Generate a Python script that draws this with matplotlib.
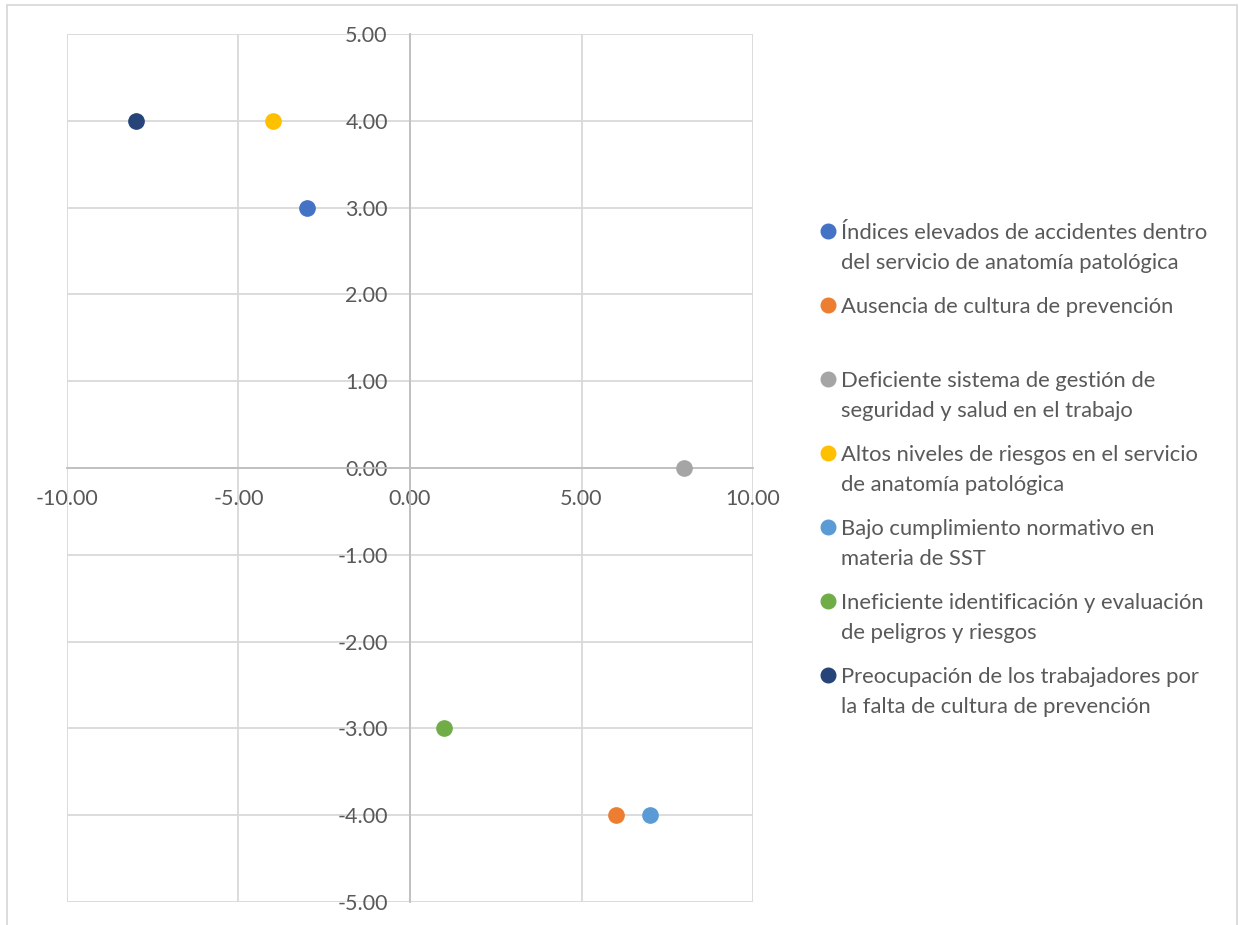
import matplotlib
matplotlib.use("Agg")
import matplotlib.pyplot as plt
from matplotlib.patches import Rectangle
from matplotlib.ticker import FuncFormatter, MultipleLocator

plt.rcParams['font.family'] = ['Lato', 'DejaVu Sans']

# Series: one point each (x, y)
labels = [
    "Índices elevados de accidentes dentro\ndel servicio de anatomía patológica",
    "Ausencia de cultura de prevención",
    "Deficiente sistema de gestión de\nseguridad y salud en el trabajo",
    "Altos niveles de riesgos en el servicio\nde anatomía patológica",
    "Bajo cumplimiento normativo en\nmateria de SST",
    "Ineficiente identificación y evaluación\nde peligros y riesgos",
    "Preocupación de los trabajadores por\nla falta de cultura de prevención",
]
x_vals = [-3, 6, 8, -4, 7, 1, -8]
y_vals = [3, -4, 0, 4, -4, -3, 4]
colors = ["#4472C4", "#ED7D31", "#A5A5A5", "#FFC000", "#5B9BD5", "#70AD47", "#264478"]

W, H = 1239, 925
fig = plt.figure(figsize=(W / 100, H / 100), dpi=100)
fig.patch.set_facecolor("white")

# outer chart frame
fig.patches.append(Rectangle((7 / W, -0.05), (1237 - 7) / W, 1.05 - 5 / H,
                             transform=fig.transFigure, fill=False,
                             edgecolor="#D9D9D9", linewidth=1.3))

ax = fig.add_axes([67 / W, 1 - 902 / H, (753 - 67) / W, (902 - 34) / H])
ax.set_xlim(-10, 10)
ax.set_ylim(-5, 5)
ax.xaxis.set_major_locator(MultipleLocator(5))
ax.yaxis.set_major_locator(MultipleLocator(1))
fmt = FuncFormatter(lambda v, p: f"{v:.2f}")
ax.xaxis.set_major_formatter(fmt)
ax.yaxis.set_major_formatter(fmt)

ax.grid(True, color="#D9D9D9", linewidth=1.3)
ax.set_axisbelow(True)
for gl in ax.get_xgridlines() + ax.get_ygridlines():
    gl.set_clip_on(False)

for side in ("top", "right"):
    ax.spines[side].set_visible(False)
ax.spines["left"].set_position(("data", 0))
ax.spines["bottom"].set_position(("data", 0))
for side in ("left", "bottom"):
    ax.spines[side].set_color("#BFBFBF")
    ax.spines[side].set_linewidth(1.3)
    ax.spines[side].set_zorder(0.6)

ax.tick_params(axis="both", length=0, labelsize=15.5, labelcolor="#595959")
ax.tick_params(axis="x", pad=15)
ax.tick_params(axis="y", pad=16)

for xv, yv, c in zip(x_vals, y_vals, colors):
    ax.plot([xv], [yv], "o", color=c, markersize=11, zorder=3, clip_on=False)

# legend
top0 = 231
step = 74
line_h = 30
for i, (lab, c) in enumerate(zip(labels, colors)):
    yc = top0 + i * step
    fig.add_artist(plt.Line2D([828 / W], [1 - yc / H], marker="o", color=c,
                              markersize=10.5, linestyle="none",
                              transform=fig.transFigure))
    for j, line in enumerate(lab.split("\n")):
        fig.text(841 / W, 1 - (yc + j * line_h) / H, line, fontsize=15.8,
                 color="#595959", ha="left", va="center_baseline")

fig.savefig("out.png", dpi=100, facecolor="white")
